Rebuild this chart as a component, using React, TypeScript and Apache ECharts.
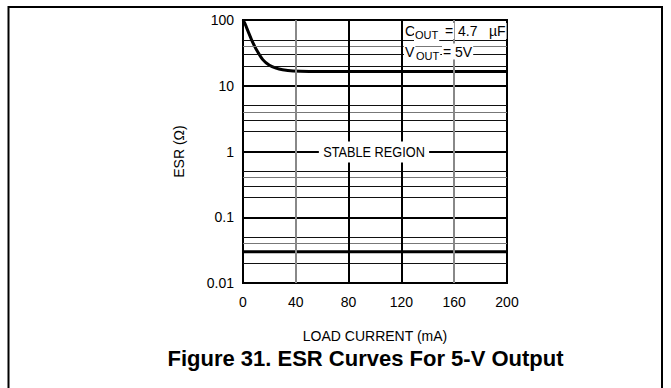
import React, { useEffect, useRef } from "react";
import * as echarts from "echarts";

// ---- data ----
const xTicks = [0, 40, 80, 120, 160, 200];
const yTickValues = [0.01, 0.1, 1, 10, 100];
const yTickLabels = ["0.01", "0.1", "1", "10", "100"];

const curveX = [0, 1.5, 4, 6.5, 10, 15, 20, 25, 30, 38, 50, 80, 120, 160, 200];
const curveY = [100, 88, 66, 50, 36, 25, 20.5, 18.5, 17.5, 16.8, 16.5, 16.4, 16.4, 16.4, 16.4];

const boundaryX = [0, 200];
const boundaryY = [0.03, 0.03];

const decadeLines = [10, 1, 0.1];
const minorBlackLines = [50, 30, 20, 5, 3, 2, 0.5, 0.3, 0.2, 0.05, 0.02];
const minorGrayLines = [40, 4, 0.4, 0.04];
const verticalBlack = [80, 120];
const verticalGray = [40, 160];

const FONT = "'Liberation Sans', Arial, sans-serif";

export default function App() {
  const ref = useRef<HTMLDivElement>(null);

  useEffect(() => {
    if (!ref.current) return;
    const chart = echarts.init(ref.current, null, { renderer: "svg" });

    const gridMarks: any[] = [
      ...decadeLines.map((v) => ({ yAxis: v, lineStyle: { color: "#000", width: 2, type: "solid" } })),
      ...minorBlackLines.map((v) => ({ yAxis: v, lineStyle: { color: "#111", width: 1, type: "solid" } })),
      ...minorGrayLines.map((v) => ({ yAxis: v, lineStyle: { color: "#777", width: 1, type: "solid" } })),
      ...verticalBlack.map((v) => ({ xAxis: v, lineStyle: { color: "#000", width: 2, type: "solid" } })),
      ...verticalGray.map((v) => ({ xAxis: v, lineStyle: { color: "#888", width: 2, type: "solid" } })),
    ];

    const textBg = (x: number, y: number, text: string, size: number, extra: any = {}) => ({
      type: "text",
      x,
      y,
      z: 100,
      style: {
        text,
        fontSize: size,
        fontFamily: FONT,
        fill: "#000",
        align: "left",
        verticalAlign: "middle",
        backgroundColor: "#fff",
        padding: [1, 1],
        ...extra,
      },
    });

    const option: any = {
      animation: false,
      backgroundColor: "#fff",
      textStyle: { fontFamily: FONT },
      grid: {
        left: 243,
        right: 164,
        top: 20,
        bottom: 105,
        show: true,
        borderColor: "#000",
        borderWidth: 2,
        backgroundColor: "transparent",
        z: 5,
      },
      xAxis: {
        type: "value",
        min: xTicks[0],
        max: xTicks[xTicks.length - 1],
        interval: 40,
        name: "LOAD CURRENT (mA)",
        nameLocation: "middle",
        nameGap: 46,
        nameTextStyle: { fontFamily: FONT, fontSize: 14, color: "#000" },
        axisLine: { show: false },
        axisTick: { show: false },
        splitLine: { show: false },
        axisLabel: { fontFamily: FONT, fontSize: 14, color: "#000", margin: 12 },
      },
      yAxis: {
        type: "log",
        logBase: 10,
        min: yTickValues[0],
        max: yTickValues[yTickValues.length - 1],
        name: "ESR (Ω)",
        nameLocation: "middle",
        nameRotate: 90,
        nameGap: 57,
        nameTextStyle: { fontFamily: FONT, fontSize: 14, color: "#000" },
        axisLine: { show: false },
        axisTick: { show: false },
        splitLine: { show: false },
        axisLabel: {
          fontFamily: FONT,
          fontSize: 14,
          color: "#000",
          margin: 9,
          formatter: (v: number) => {
            let best = 0;
            let bd = Infinity;
            yTickValues.forEach((t, i) => {
              const d = Math.abs(Math.log10(t) - Math.log10(v));
              if (d < bd) {
                bd = d;
                best = i;
              }
            });
            return yTickLabels[best];
          },
        },
      },
      series: [
        {
          name: "grid",
          type: "line",
          data: [],
          silent: true,
          z: 1,
          markLine: {
            silent: true,
            symbol: ["none", "none"],
            label: { show: false },
            animation: false,
            data: gridMarks,
          },
        },
        {
          name: "boundary",
          type: "line",
          data: boundaryX.map((x, i) => [x, boundaryY[i]]),
          showSymbol: false,
          symbol: "none",
          lineStyle: { color: "#000", width: 3 },
          z: 3,
        },
        {
          name: "ESR",
          type: "line",
          data: curveX.map((x, i) => [x, curveY[i]]),
          showSymbol: false,
          symbol: "none",
          smooth: 0.3,
          lineStyle: { color: "#000", width: 3 },
          z: 4,
        },
      ],
      graphic: [
        {
          type: "polyline",
          z: 100,
          shape: { points: [[8.5, 390], [8.5, 7], [662, 7], [662, 390]] },
          style: { stroke: "#000", lineWidth: 2, fill: "none" },
        },
        {
          type: "text",
          x: 374,
          y: 152,
          z: 100,
          scaleX: 0.85,
          style: {
            text: "STABLE REGION",
            fontSize: 15,
            fontFamily: FONT,
            fill: "#000",
            align: "center",
            verticalAlign: "middle",
            backgroundColor: "#fff",
            padding: [3, 5],
          },
        },
        textBg(404, 31, "C", 14),
        textBg(414, 35, "OUT", 11),
        textBg(444, 31, "=", 14),
        textBg(457, 31, "4.7", 14),
        textBg(488, 31, "µF", 14),
        textBg(404, 51.5, "V", 14),
        textBg(415, 55.5, "OUT", 11),
        textBg(442, 51.5, "= 5V", 14),
        {
          type: "text",
          x: 365.5,
          y: 358,
          z: 100,
          style: {
            text: "Figure 31. ESR Curves For 5-V Output",
            fontSize: 22,
            fontWeight: "bold",
            fontFamily: FONT,
            fill: "#000",
            align: "center",
            verticalAlign: "middle",
          },
        },
      ],
    };

    chart.setOption(option);
    return () => chart.dispose();
  }, []);

  return (
    <div
      ref={ref}
      style={{ position: "fixed", left: 0, top: 0, width: 671, height: 388, background: "#fff" }}
    />
  );
}
